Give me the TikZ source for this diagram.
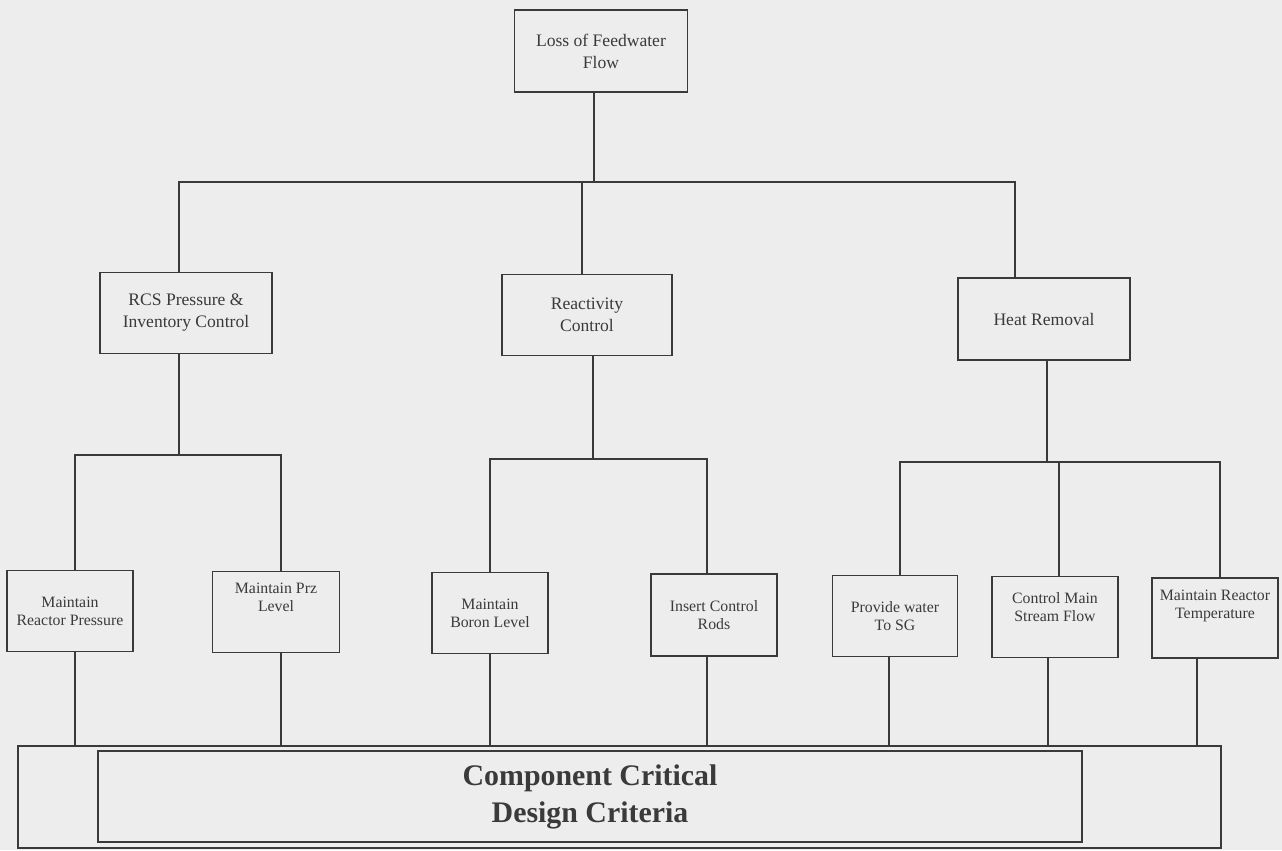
\documentclass[tikz,border=0pt]{standalone}
\usepackage{fontspec}
\setmainfont{Liberation Serif}
\usepackage{tikz}
\usetikzlibrary{positioning}
\usetikzlibrary{calc}
\definecolor{ink}{HTML}{3A3A3A}
\definecolor{paper}{HTML}{EDEDED}
\tikzset{
  semithick,
  block/.style = {rectangle, draw=ink, text=ink, line width=1pt, align=center,
   font=\fontsize{10}{12.5}\selectfont, minimum width=3.44cm, minimum height=1.62cm, inner sep=2pt},
  task/.style = {rectangle, draw=ink, text=ink, line width=1pt, align=center,
   font=\fontsize{9}{10.3}\selectfont, minimum width=2.52cm, minimum height=1.62cm, inner sep=1pt},
  wire/.style = {draw=ink, line width=1pt},
}
\begin{document}
\begin{tikzpicture}[x=0.02cm, y=-0.02cm]
  \fill[paper] (0,0) rectangle (1282,850);
  \useasboundingbox (0,0) rectangle (1282,850);
  % event and safety functions
  \node (lfw)  at (601,51)  [block, minimum width=3.46cm, minimum height=1.64cm] {Loss of Feedwater\\Flow};
  \node (rcs)  at (186,313) [block] {RCS Pressure \&\\Inventory Control};
  \node (rc)   at (587,315) [block, minimum width=3.4cm] {Reactivity\\Control};
  \node (heat) at (1044,319)[block, minimum height=1.64cm] {Heat Removal};
  % tasks
  \node (mrp) at (70,611)   [task] {Maintain\\Reactor Pressure};
  \node (prz) at (276,612)  [task, minimum width=2.54cm] {Maintain Prz\\Level\\[7pt]};
  \node (mbl) at (490,613)  [task, minimum width=2.32cm] {Maintain\\Boron Level};
  \node (icr) at (714,615)  [task, minimum height=1.64cm] {Insert Control\\Rods};
  \node (pws) at (895,616)  [task, minimum width=2.5cm] {Provide water\\To SG};
  \node (cms) at (1055,617) [task] {Control Main\\Stream Flow\\[1pt]};
  \node (mrt) at (1215,618) [task, minimum height=1.6cm] {Maintain Reactor\\Temperature\\[5pt]};
  % criteria
  \node (crit) at (619.5,797) [rectangle, draw=ink, line width=1pt, minimum width=24.06cm, minimum height=2.04cm] {};
  \node (critin) at (590,796.5) [rectangle, draw=ink, text=ink, line width=1pt, align=center,
   minimum width=19.68cm, minimum height=1.82cm, font=\bfseries\fontsize{17}{21}\selectfont] {Component Critical\\Design Criteria};
  % buses
  \coordinate (top) at (594,182);
  \coordinate (b1) at (179,455);
  \coordinate (b2) at (593,459);
  \coordinate (b3) at (1047,462);
  \draw[wire] (top |- lfw.south) -- (top);
  \draw[wire] (b1 |- rcs.north) |- (top) -| ([xshift=-0.58cm]heat.north);
  \draw[wire] ([xshift=-0.1cm]rc.north) -- ([xshift=-0.1cm]rc.north |- top);
  \draw[wire] (b1 |- rcs.south) -- (b1);
  \draw[wire] (b2 |- rc.south) -- (b2);
  \draw[wire] (b3 |- heat.south) -- (b3);
  \draw[wire] ([xshift=0.1cm]mrp.north) |- (b1) -| ([xshift=0.1cm]prz.north);
  \draw[wire] (mbl.north) |- (b2) -| ([xshift=-0.14cm]icr.north);
  \draw[wire] ([xshift=0.1cm]pws.north) |- (b3) -| ([xshift=0.1cm]mrt.north);
  \draw[wire] ([xshift=0.08cm]cms.north) -- ([xshift=0.08cm]cms.north |- b3);
  % down to criteria
  \foreach \t/\s in {mrp/0.1,prz/0.1,mbl/0,icr/-0.14,pws/-0.12,cms/-0.14,mrt/-0.36}
    \draw[wire] ([xshift=\s cm]\t.south) -- ([xshift=\s cm]\t.south |- crit.north);
\end{tikzpicture}
\end{document}
